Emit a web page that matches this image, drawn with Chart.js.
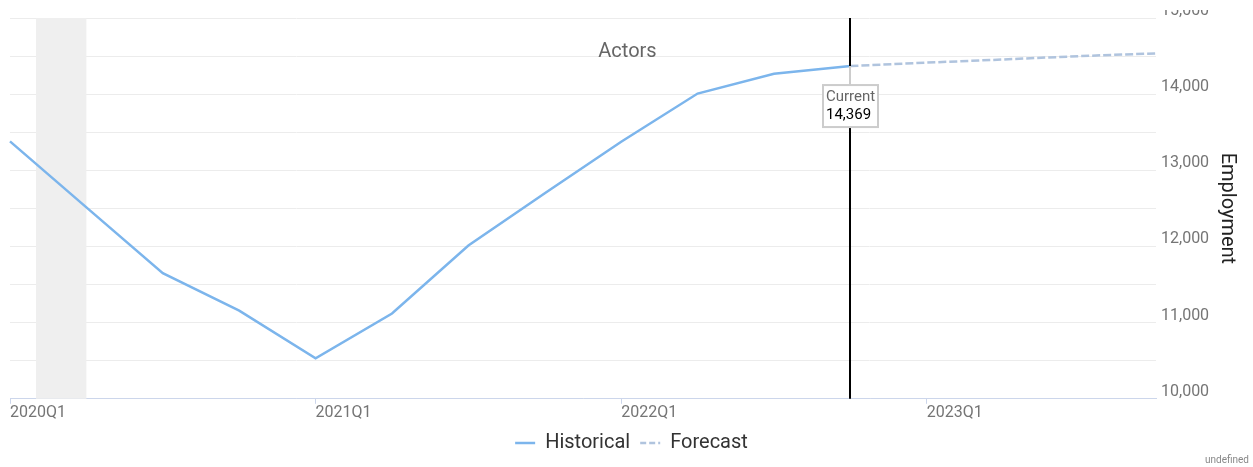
<!DOCTYPE html>
<html>
<head>
<meta charset="utf-8">
<script src="https://cdn.jsdelivr.net/npm/chart.js@4/dist/chart.umd.min.js"></script>
<style>
  html, body { margin: 0; padding: 0; background: #fff; overflow: hidden; }
  #wrap { position: absolute; left: 0; top: 10px; width: 1253px; height: 457px; }
</style>
</head>
<body>
<div id="wrap"><canvas id="c" width="1253" height="457"></canvas></div>
<script>
// ---- data ----
const chartTitle = 'Actors';
const quarters = ['2020Q1','2020Q2','2020Q3','2020Q4','2021Q1','2021Q2','2021Q3','2021Q4',
                  '2022Q1','2022Q2','2022Q3','2022Q4','2023Q1','2023Q2','2023Q3','2023Q4'];
const historical = [13380, 12513, 11650, 11158, 10532, 11120, 12013, 12700,
                    13375, 14008, 14267, 14369, null, null, null, null];
const forecast   = [null, null, null, null, null, null, null, null,
                    null, null, null, 14369, 14414, 14455, 14500, 14535];
const currentIndex = 11;
const currentValue = 14369;
const recessionStart = 0.34;
const recessionEnd = 1.0;
const yMin = 10000, yMax = 15000, yStep = 500;

Chart.defaults.font.family = 'Roboto';

const fmt = v => Number(v).toLocaleString('en-US');

const decorations = {
  id: 'decorations',
  beforeDatasetsDraw(chart) {
    const {ctx, chartArea, scales: {x}} = chart;
    const x0 = x.getPixelForValue(recessionStart);
    const x1 = x.getPixelForValue(recessionEnd);
    ctx.save();
    ctx.fillStyle = '#efefef';
    ctx.fillRect(x0, chartArea.top, x1 - x0, chartArea.bottom - chartArea.top);
    ctx.restore();
  },
  afterDatasetsDraw(chart) {
    const {ctx, chartArea, scales: {x, y}} = chart;
    const px = Math.round(x.getPixelForValue(currentIndex));
    const py = y.getPixelForValue(currentValue);
    ctx.save();
    ctx.strokeStyle = '#000';
    ctx.lineWidth = 2;
    ctx.beginPath();
    ctx.moveTo(px, chartArea.top);
    ctx.lineTo(px, chartArea.bottom);
    ctx.stroke();
    const boxTop = py + 19;
    ctx.strokeStyle = '#cccccc';
    ctx.beginPath();
    ctx.moveTo(px, py);
    ctx.lineTo(px, boxTop);
    ctx.stroke();
    const bw = 55, bh = 42;
    const bx = px - 27;
    ctx.fillStyle = '#fff';
    ctx.fillRect(bx, boxTop, bw, bh);
    ctx.strokeStyle = '#cccccc';
    ctx.lineWidth = 2;
    ctx.strokeRect(bx, boxTop, bw, bh);
    ctx.textAlign = 'left';
    ctx.textBaseline = 'middle';
    ctx.font = '15px Roboto';
    ctx.fillStyle = '#666';
    ctx.fillText('Current', bx + 3, boxTop + 12);
    ctx.fillStyle = '#000';
    ctx.fillText(fmt(currentValue), bx + 3, boxTop + 30);
    ctx.restore();
  },
  afterDraw(chart) {
    const {ctx, width} = chart;
    ctx.save();
    ctx.textAlign = 'center';
    ctx.textBaseline = 'middle';
    ctx.font = '20px Roboto';
    ctx.fillStyle = '#666';
    ctx.fillText(chartTitle, width / 2 + 1, 42);
    ctx.textAlign = 'right';
    ctx.font = '10px Roboto';
    ctx.fillStyle = '#888';
    ctx.fillText('undefined', width - 4, 450);
    ctx.restore();
  }
};

new Chart(document.getElementById('c'), {
  type: 'line',
  data: {
    labels: quarters,
    datasets: [
      {
        label: 'Historical',
        data: historical,
        borderColor: '#7cb5ec',
        backgroundColor: '#7cb5ec',
        borderWidth: 2.5,
        pointRadius: 0,
        tension: 0
      },
      {
        label: 'Forecast',
        data: forecast,
        borderColor: '#b0c4de',
        backgroundColor: '#b0c4de',
        borderWidth: 2.5,
        borderDash: [8, 3],
        pointRadius: 0,
        tension: 0
      }
    ]
  },
  options: {
    responsive: false,
    animation: false,
    devicePixelRatio: 1,
    layout: { padding: { left: 10, right: 0, top: 8, bottom: 4 } },
    plugins: {
      legend: {
        position: 'bottom',
        labels: {
          usePointStyle: true,
          pointStyle: 'line',
          pointStyleWidth: 20,
          boxHeight: 20,
          color: '#333',
          font: { size: 20 },
          padding: 10,
          generateLabels(chart) {
            return chart.data.datasets.map((ds, i) => ({
              text: ds.label,
              fillStyle: ds.borderColor,
              strokeStyle: ds.borderColor,
              lineWidth: 2.5,
              lineDash: i === 1 ? [6, 3] : [],
              pointStyle: 'line',
              fontColor: '#333',
              hidden: !chart.isDatasetVisible(i),
              datasetIndex: i
            }));
          }
        }
      },
      tooltip: { enabled: false }
    },
    scales: {
      x: {
        type: 'category',
        border: { display: true, color: '#ccd6eb', width: 1 },
        grid: {
          display: true,
          drawOnChartArea: false,
          drawTicks: true,
          tickLength: 5,
          color: c => (c.index % 4 === 0 ? '#ccd6eb' : 'rgba(0,0,0,0)')
        },
        ticks: {
          autoSkip: false,
          maxRotation: 0,
          minRotation: 0,
          align: 'start',
          padding: 0,
          color: '#757575',
          font: { size: 16 },
          callback: (v, i) => (i % 4 === 0 ? quarters[i] : '')
        },
        afterFit(s) { s.paddingLeft = 0; s.paddingRight = 0; }
      },
      y: {
        position: 'right',
        min: yMin,
        max: yMax,
        border: { display: false },
        grid: { color: '#ececec', drawTicks: false },
        ticks: {
          stepSize: yStep,
          padding: 5,
          labelOffset: -7,
          color: '#757575',
          font: { size: 16 },
          callback: v => (v % 1000 === 0 ? fmt(v) : '')
        },
        title: {
          display: true,
          text: 'Employment',
          color: '#222',
          font: { size: 20 },
          padding: { top: 14, bottom: 0 }
        },
        afterFit(s) { s.width = 97; s.paddingTop = 0; s.paddingBottom = 0; }
      }
    }
  },
  plugins: [decorations]
});
</script>
</body>
</html>
